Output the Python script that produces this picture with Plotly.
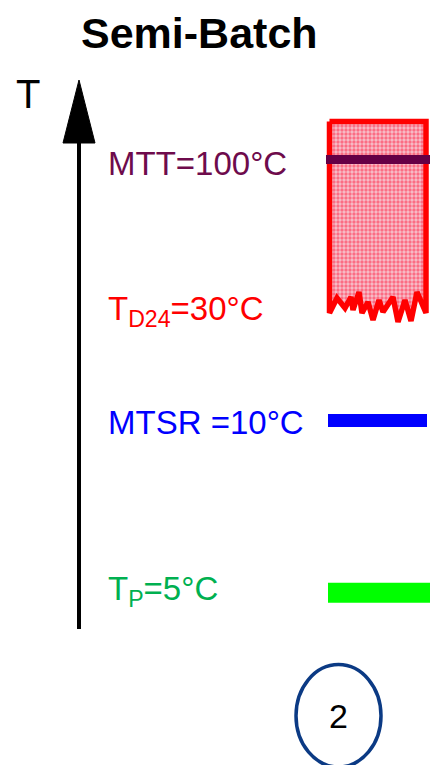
import plotly.graph_objects as go

# ---- data (schematic temperature levels) ----
level_names = ["MTT", "T_D24", "MTSR", "T_P"]
level_labels = ["MTT=100°C", "T<sub>D24</sub>=30°C", "MTSR =10°C", "T<sub>P</sub>=5°C"]
level_temps = [100, 30, 10, 5]
title_text = "Semi-Batch"
axis_label = "T"
scenario_class = "2"

# ---- schematic layout (pixel-like coordinates, not data) ----
W, H = 430, 765
label_y = {"MTT": 163, "T_D24": 311, "MTSR": 422, "T_P": 591}
label_col = {"MTT": "#6E0B4C", "T_D24": "#FF0000", "MTSR": "#0000FF", "T_P": "#00B050"}
FONT = "Liberation Sans, Arial, sans-serif"

fig = go.Figure()

# red decomposition zone with broken (jagged) bottom
jag_x = [329.5, 337, 345, 351, 353, 359, 362, 368, 373, 379, 383, 393, 398, 405, 411, 417, 426]
jag_y = [313, 298, 308, 297, 310, 292, 313, 302, 320, 300, 312, 297, 322, 300, 321, 292, 313]
zx = [329.5, 426] + jag_x[::-1] + [329.5]
zy = [121.5, 121.5] + jag_y[::-1] + [121.5]
fig.add_trace(go.Scatter(
    x=zx, y=zy, mode="lines", fill="toself",
    line=dict(color="#FF0000", width=5.5),
    fillcolor="#F5A5B5",
    fillpattern=dict(shape=".", fgcolor="#FF1A3C", bgcolor="#F7C0CB", size=4, solidity=0.55),
    hoverinfo="skip", showlegend=False))

# level bars
bar_style = {"MTT": ("#650046", 9, 159.5, 326, 430),
             "MTSR": ("#0000FF", 13, 420.5, 328, 427),
             "T_P": ("#00FF00", 20, 592.7, 328, 430)}
for name, (col, lw, yy, x0, x1) in bar_style.items():
    fig.add_trace(go.Scatter(x=[x0, x1], y=[yy, yy], mode="lines",
                             line=dict(color=col, width=lw),
                             hoverinfo="skip", showlegend=False))

# T axis arrow
fig.add_trace(go.Scatter(x=[79, 79], y=[629, 140], mode="lines",
                         line=dict(color="black", width=4),
                         hoverinfo="skip", showlegend=False))
fig.add_trace(go.Scatter(x=[79, 63, 95, 79], y=[80, 143, 143, 80], mode="lines",
                         fill="toself", fillcolor="black",
                         line=dict(color="black", width=1),
                         hoverinfo="skip", showlegend=False))

# labels
for name, lab in zip(level_names, level_labels):
    fig.add_annotation(x=106, y=label_y[name], text=lab, showarrow=False,
                       xanchor="left", yanchor="middle",
                       font=dict(family=FONT, size=33, color=label_col[name]))

fig.add_annotation(x=28, y=94, text=axis_label, showarrow=False,
                   xanchor="center", yanchor="middle",
                   font=dict(family=FONT, size=40, color="black"))

fig.add_annotation(x=199, y=33, text="<b>" + title_text + "</b>", showarrow=False,
                   xanchor="center", yanchor="middle",
                   font=dict(family=FONT, size=43, color="black"))

# scenario circle
fig.add_shape(type="circle", x0=296, x1=381, y0=664.5, y1=767,
              line=dict(color="#0B3A84", width=3.5))
fig.add_annotation(x=338, y=716, text=scenario_class, showarrow=False,
                   xanchor="center", yanchor="middle",
                   font=dict(family=FONT, size=34, color="black"))

fig.update_layout(
    width=W, height=H, margin=dict(l=0, r=0, t=0, b=0),
    paper_bgcolor="white", plot_bgcolor="white",
    xaxis=dict(range=[0, W], visible=False, fixedrange=True),
    yaxis=dict(range=[H, 0], visible=False, fixedrange=True),
    showlegend=False,
)

fig.write_html("out.html", config={"displayModeBar": False},
               post_script="document.body.style.margin='0';document.body.style.overflow='hidden';")
